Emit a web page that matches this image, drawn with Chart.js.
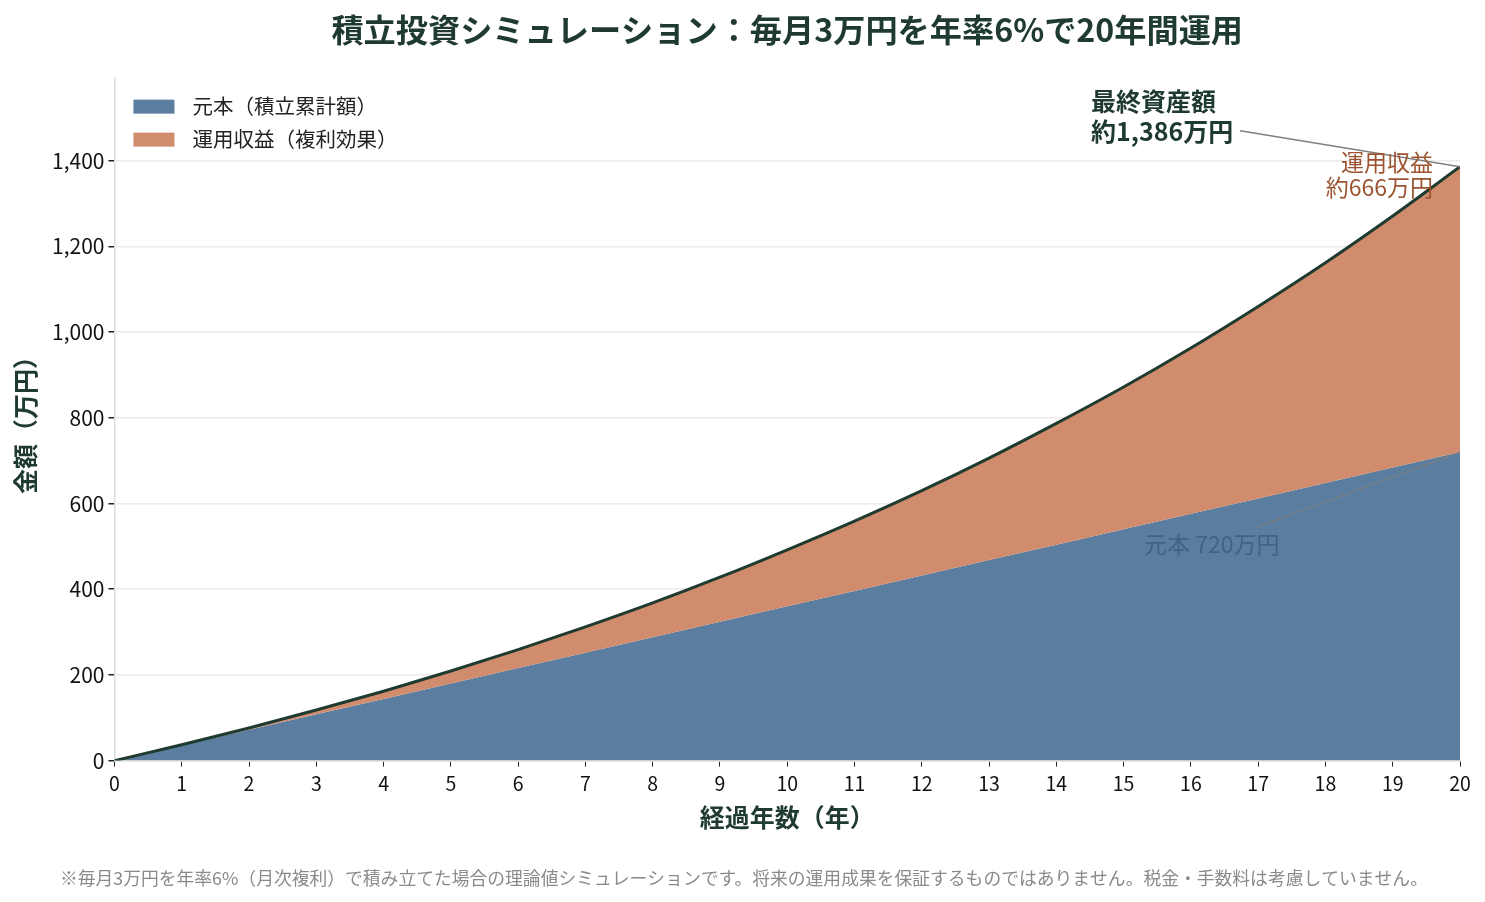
<!DOCTYPE html>
<html lang="ja">
<head>
<meta charset="utf-8">
<title>積立投資シミュレーション</title>
<script src="https://cdn.jsdelivr.net/npm/chart.js@4.4.1/dist/chart.umd.min.js"></script>
<style>
  html, body { margin: 0; padding: 0; background: #fff; }
  #wrap { width: 1485px; height: 902px; }
</style>
</head>
<body>
<div id="wrap"><canvas id="chart" width="1485" height="902"></canvas></div>
<script>
// data (万円)
const years = [0, 1, 2, 3, 4, 5, 6, 7, 8, 9, 10, 11, 12, 13, 14, 15, 16, 17, 18, 19, 20];
const principal = [0, 36, 72, 108, 144, 180, 216, 252, 288, 324, 360, 396, 432, 468, 504, 540, 576, 612, 648, 684, 720];
const totalAssets = [0, 37, 76, 118, 162, 209, 259, 312, 368, 428, 492, 559, 630, 706, 787, 872, 963, 1060, 1162, 1271, 1386];
const seriesLabels = ['元本（積立累計額）', '運用収益（複利効果）'];
const yTicks = [0, 200, 400, 600, 800, 1000, 1200, 1400];

const finalTotalLabel = ['最終資産額', '約1,386万円'];
const finalProfitLabel = ['運用収益', '約666万円'];
const finalPrincipalLabel = '元本 720万円';
const footnote = '※毎月3万円を年率6%（月次複利）で積み立てた場合の理論値シミュレーションです。将来の運用成果を保証するものではありません。税金・手数料は考慮していません。';

const FONT = '"Noto Sans CJK JP", "Noto Sans", sans-serif';
const BLUE = '#5b7d9f';
const ORANGE = '#d08c6c';
const DARK = '#1f3a2e';

const toXY = arr => years.map((y, i) => ({ x: y, y: arr[i] }));

const overlay = {
    id: 'overlay',
    afterDatasetsDraw(chart) {
        const { ctx, scales: { x, y }, chartArea } = chart;
        const last = years.length - 1;
        const xEnd = x.getPixelForValue(years[last]);
        const yTot = y.getPixelForValue(totalAssets[last]);
        const yPri = y.getPixelForValue(principal[last]);

        ctx.save();
        // legend inside the plot
        const legendColors = [BLUE, ORANGE];
        ctx.font = '20.5px ' + FONT;
        ctx.textBaseline = 'middle';
        ctx.textAlign = 'left';
        seriesLabels.forEach((label, i) => {
            const ly = chartArea.top + 29 + i * 33;
            ctx.fillStyle = legendColors[i];
            ctx.fillRect(chartArea.left + 19, ly - 7, 41, 14);
            ctx.fillStyle = '#222';
            ctx.fillText(label, chartArea.left + 78, ly);
        });

        // final total annotation
        ctx.strokeStyle = '#808080';
        ctx.lineWidth = 1.3;
        ctx.beginPath();
        ctx.moveTo(xEnd - 220, yTot - 36);
        ctx.lineTo(xEnd, yTot);
        ctx.stroke();
        ctx.font = 'bold 25px ' + FONT;
        ctx.fillStyle = DARK;
        ctx.fillText(finalTotalLabel[0], xEnd - 369, yTot - 65);
        ctx.fillText(finalTotalLabel[1], xEnd - 369, yTot - 35);

        // profit annotation
        ctx.font = '23px ' + FONT;
        ctx.fillStyle = '#9c5430';
        ctx.textAlign = 'right';
        ctx.fillText(finalProfitLabel[0], xEnd - 27, yTot - 4);
        ctx.fillText(finalProfitLabel[1], xEnd - 27, yTot + 21);

        // principal annotation
        ctx.strokeStyle = '#7a7f84';
        ctx.beginPath();
        ctx.moveTo(xEnd - 203, yPri + 75);
        ctx.lineTo(xEnd, yPri);
        ctx.stroke();
        ctx.textAlign = 'left';
        ctx.fillStyle = '#3f6485';
        ctx.fillText(finalPrincipalLabel, xEnd - 316, yPri + 92);

        // footnote
        ctx.font = '17.8px ' + FONT;
        ctx.fillStyle = '#8a8a8a';
        ctx.fillText(footnote, 60, 878);
        ctx.restore();
    }
};

new Chart(document.getElementById('chart'), {
    type: 'line',
    data: {
        datasets: [
            {
                label: seriesLabels[0],
                data: toXY(principal),
                borderWidth: 0,
                backgroundColor: BLUE,
                fill: 'origin',
                pointRadius: 0,
                order: 2
            },
            {
                label: seriesLabels[1],
                data: toXY(totalAssets),
                borderColor: DARK,
                borderWidth: 3,
                backgroundColor: ORANGE,
                fill: '-1',
                pointRadius: 0,
                cubicInterpolationMode: 'monotone',
                order: 1
            }
        ]
    },
    options: {
        responsive: false,
        animation: false,
        layout: { padding: { top: 0, left: 6, right: 25, bottom: 66 } },
        plugins: {
            legend: { display: false },
            tooltip: { enabled: false },
            title: {
                display: true,
                fullSize: false,
                text: '積立投資シミュレーション：毎月3万円を年率6%で20年間運用',
                color: DARK,
                font: { family: FONT, size: 32.2, weight: 'bold' },
                padding: { top: 10, bottom: 29 }
            }
        },
        scales: {
            x: {
                type: 'linear',
                min: 0,
                max: 20,
                ticks: { stepSize: 1, color: '#111', font: { family: FONT, size: 19.5 }, padding: 5 },
                grid: { drawOnChartArea: false, drawTicks: true, tickLength: 6, tickColor: '#222' },
                border: { color: '#d8dede', width: 1.5 },
                title: {
                    display: true,
                    text: '経過年数（年）',
                    color: DARK,
                    font: { family: FONT, size: 25, weight: 'bold' },
                    padding: { top: 2 }
                }
            },
            y: {
                min: 0,
                max: 1594,
                afterBuildTicks: axis => { axis.ticks = yTicks.map(v => ({ value: v })); },
                ticks: {
                    color: '#111',
                    font: { family: FONT, size: 21 },
                    padding: 4,
                    callback: v => v.toLocaleString('en-US')
                },
                grid: { color: '#ececec', lineWidth: 1.5, tickLength: 6, tickColor: '#222' },
                border: { color: '#d8dede', width: 1.5 },
                title: {
                    display: true,
                    text: '金額（万円）',
                    color: DARK,
                    font: { family: FONT, size: 25, weight: 'bold' },
                    padding: { bottom: 8 }
                }
            }
        }
    },
    plugins: [overlay]
});
</script>
</body>
</html>
